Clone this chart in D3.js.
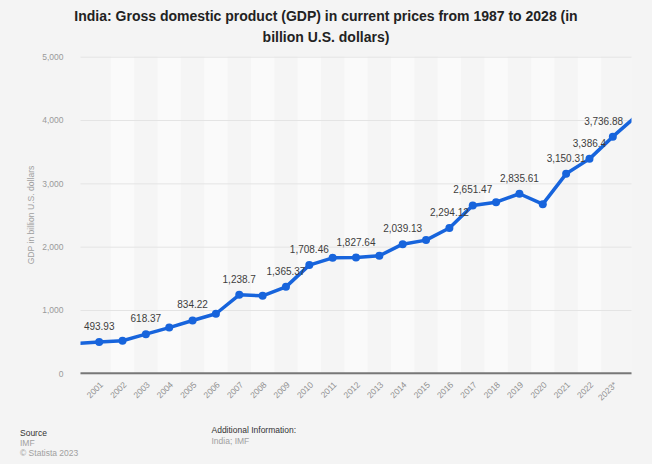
<!DOCTYPE html>
<html>
<head>
<meta charset="utf-8">
<script src="https://cdn.jsdelivr.net/npm/d3@7"></script>
<style>
  html, body { margin: 0; padding: 0; background: #f4f4f4; }
  svg { display: block; font-family: "Liberation Sans", Arial, Helvetica, sans-serif; }
</style>
</head>
<body>
<svg id="chart" width="652" height="464"></svg>
<script>
// ---- data ----
const years = ["2001","2002","2003","2004","2005","2006","2007","2008","2009","2010","2011","2012",
               "2013","2014","2015","2016","2017","2018","2019","2020","2021","2022","2023*"];
const gdp = [493.93, 514.94, 618.37, 721.59, 834.22, 940.26, 1238.7, 1224.1, 1365.37, 1708.46, 1823.05, 1827.64,
             1856.72, 2039.13, 2103.59, 2294.12, 2651.47, 2702.93, 2835.61, 2671.6, 3150.31, 3386.4, 3736.88];
// neighbouring years outside the visible range (line runs off the plot edges)
const gdpBefore = 468.39;   // 2000
const gdpAfter = 4060;      // 2024*
const labeled = ["2001","2003","2005","2007","2009","2010","2012","2014","2016","2017","2019","2021","2022","2023*"];
const yTicks = [0, 1000, 2000, 3000, 4000, 5000];

const title1 = "India: Gross domestic product (GDP) in current prices from 1987 to 2028 (in";
const title2 = "billion U.S. dollars)";
const yTitle = "GDP in billion U.S. dollars";

// ---- layout ----
const svg = d3.select("#chart");
const W = 652, H = 464;
const plot = { left: 80.5, right: 631.5, top: 56.7, bottom: 373.3 };

svg.append("rect").attr("width", W).attr("height", H).attr("fill", "#f4f4f4");

const x = d3.scaleLinear().domain([-0.8, years.length - 0.2]).range([plot.left, plot.right]);
const y = d3.scaleLinear().domain([0, 5000]).range([plot.bottom, plot.top]);
const step = x(1) - x(0);

// plot background with alternating bands
svg.append("rect").attr("x", plot.left).attr("y", plot.top)
  .attr("width", plot.right - plot.left).attr("height", plot.bottom - plot.top)
  .attr("fill", "#f5f5f5");
svg.append("g").selectAll("rect").data(years.filter((d, i) => i % 2 === 1))
  .join("rect")
  .attr("x", d => x(years.indexOf(d)) - step / 2)
  .attr("y", plot.top)
  .attr("width", step)
  .attr("height", plot.bottom - plot.top)
  .attr("fill", "#fafafa");

// title
svg.append("text").attr("x", W / 2).attr("y", 21).attr("text-anchor", "middle")
  .attr("font-size", 14).attr("font-weight", "bold").attr("fill", "#222").text(title1);
svg.append("text").attr("x", W / 2).attr("y", 42).attr("text-anchor", "middle")
  .attr("font-size", 14).attr("font-weight", "bold").attr("fill", "#222").text(title2);

// gridlines + y axis
const yAxis = d3.axisLeft(y).tickValues(yTicks).tickFormat(d3.format(",")).tickSize(-(plot.right - plot.left)).tickPadding(17);
const gy = svg.append("g").attr("transform", `translate(${plot.left},0)`).call(yAxis);
gy.select(".domain").remove();
gy.selectAll(".tick line").attr("stroke", "#e4e4e4").attr("stroke-width", 1);
gy.selectAll(".tick text").attr("fill", "#9a9a9a").attr("font-size", 8.5)
  .attr("font-family", "'Liberation Sans', Arial, sans-serif");

// y title
svg.append("text")
  .attr("transform", `translate(34,${(plot.top + plot.bottom) / 2}) rotate(-90)`)
  .attr("text-anchor", "middle").attr("font-size", 8.6).attr("fill", "#a0a0a0").text(yTitle);

// x axis
const xAxis = d3.axisBottom(x).tickValues(d3.range(years.length)).tickFormat(i => years[i]).tickSize(0).tickPadding(0);
const gx = svg.append("g").attr("transform", `translate(0,${plot.bottom})`).call(xAxis);
gx.select(".domain").remove();
gx.selectAll(".tick text")
  .attr("font-size", 8.5).attr("fill", "#8f8f8f")
  .attr("font-family", "'Liberation Sans', Arial, sans-serif")
  .attr("text-anchor", "end")
  .attr("dy", 0)
  .attr("transform", "translate(4,12) rotate(-45)");
svg.append("line").attr("x1", plot.left).attr("x2", plot.right)
  .attr("y1", plot.bottom).attr("y2", plot.bottom)
  .attr("stroke", "#777").attr("stroke-width", 2);

// line (clipped)
svg.append("clipPath").attr("id", "clip").append("rect")
  .attr("x", plot.left).attr("y", plot.top - 10)
  .attr("width", plot.right - plot.left).attr("height", plot.bottom - plot.top + 10);

const series = [{ i: -1, v: gdpBefore }].concat(gdp.map((v, i) => ({ i, v })), [{ i: years.length, v: gdpAfter }]);
const line = d3.line().x(d => x(d.i)).y(d => y(d.v));
svg.append("path").datum(series).attr("clip-path", "url(#clip)")
  .attr("d", line).attr("fill", "none").attr("stroke", "#1764dc")
  .attr("stroke-width", 3.5).attr("stroke-linejoin", "round");

svg.append("g").selectAll("circle").data(gdp.map((v, i) => ({ i, v })))
  .join("circle")
  .attr("cx", d => x(d.i)).attr("cy", d => y(d.v)).attr("r", 4)
  .attr("fill", "#1764dc");

// data labels
const fmt = d3.format(",");
const labelsG = svg.append("g");
gdp.forEach((v, i) => {
  if (!labeled.includes(years[i])) return;
  const t = labelsG.append("text")
    .attr("x", x(i)).attr("y", y(v) - 12)
    .attr("text-anchor", "middle").attr("font-size", 10).attr("fill", "#3d3d3d")
    .text(fmt(v));
  const bb = t.node().getBBox();
  const limit = plot.right - 8;
  if (bb.x + bb.width > limit) t.attr("x", x(i) - (bb.x + bb.width - limit));
});

// footer
const foot = svg.append("g").attr("font-size", 8.5);
foot.append("text").attr("x", 20).attr("y", 435.5).attr("fill", "#333").text("Source");
foot.append("text").attr("x", 20).attr("y", 445.5).attr("fill", "#a0a0a0").text("IMF");
foot.append("text").attr("x", 20).attr("y", 456).attr("fill", "#a0a0a0").text("© Statista 2023");
foot.append("text").attr("x", 211.5).attr("y", 433).attr("fill", "#333").text("Additional Information:");
foot.append("text").attr("x", 211.5).attr("y", 443.5).attr("fill", "#a0a0a0").text("India; IMF");
</script>
</body>
</html>
